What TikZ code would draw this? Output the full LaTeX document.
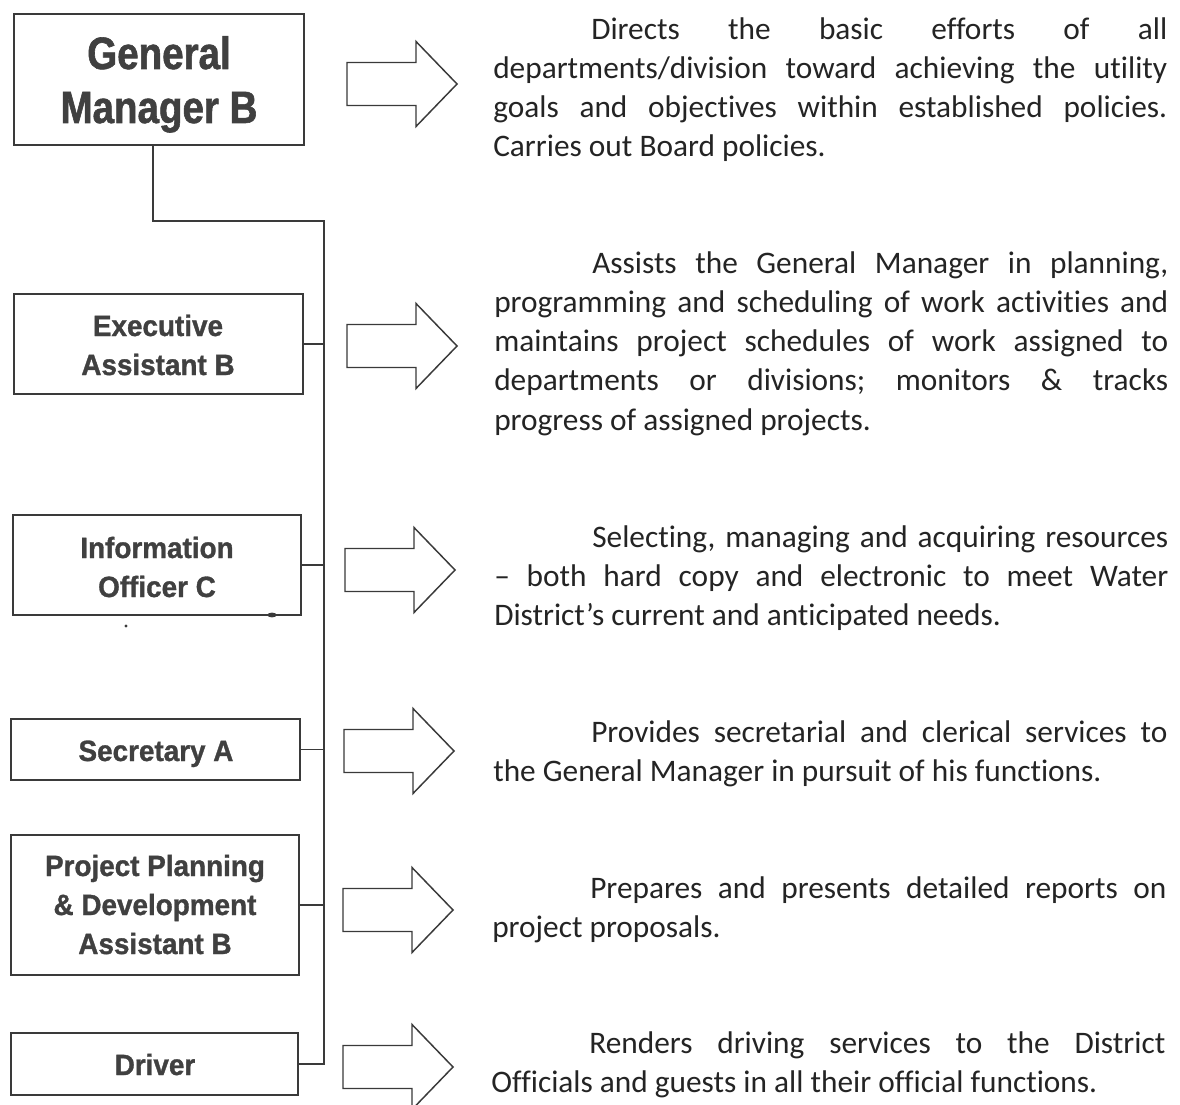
\documentclass[tikz,border=0pt]{standalone}
\usepackage{fontspec}
\setmainfont{Carlito}[Ligatures={TeX,NoCommon}]
\newfontfamily\gmfont[FakeStretch=0.85,FakeBold=1.3]{Liberation Sans}
\newfontfamily\boxfont[FakeStretch=0.95,FakeBold=1.1]{Liberation Sans}
\usetikzlibrary{fit}
\definecolor{ink}{HTML}{242424}
\definecolor{boxink}{HTML}{404040}
\definecolor{lineink}{HTML}{3A3A3A}
\tikzset{
  orgbox/.style={draw=lineink, line width=1.3pt, inner sep=0pt, fill=none},
  conn/.style={draw=lineink, line width=0.8pt},
  arrowline/.style={draw=lineink, line width=1.1pt, line join=miter},
  lab/.style={inner sep=0pt, anchor=base, text=boxink},
  desc/.style={inner sep=0pt, anchor=base west, text=ink,
    font=\fontsize{23.5pt}{29.25pt}\selectfont},
  fatarrow/.pic={\draw[arrowline] (0,-21.5) -- (69,-21.5) -- (69,-42.5) -- (110,0)
      -- (69,42.5) -- (69,21.5) -- (0,21.5) -- cycle;}
}
\newcommand{\desctext}[1]{\parbox[t]{505.5pt}{\frenchspacing\hspace*{73.5pt}#1}}
\newcommand{\smalllab}[1]{\parbox[t]{215pt}{\centering\boxfont\bfseries\fontsize{22pt}{29.25pt}\selectfont #1}}
\begin{document}
\begin{tikzpicture}[x=0.75pt, y=-0.75pt]
\useasboundingbox (0,0) rectangle (1180,1105);
\clip (0,0) rectangle (1180,1105);
\fill[white] (0,0) rectangle (1180,1105);

% boxes
\node[orgbox, fit={(14,14) (304,145)}] (gm) {};
\node[orgbox, fit={(14,294) (303,394)}] (ea) {};
\node[orgbox, fit={(13,515) (301,615)}] (io) {};
\node[orgbox, fit={(11,719) (300,780)}] (sa) {};
\node[orgbox, fit={(11,835) (299,975)}] (pp) {};
\node[orgbox, fit={(11,1033) (298,1095)}] (dr) {};

% box labels
\node[lab] (gml) at (159,69) {\parbox[t]{215pt}{\centering\gmfont\bfseries\fontsize{34pt}{40.5pt}\selectfont General\\Manager B}};
\node[lab] (eal) at (158,336) {\smalllab{Executive\\Assistant B}};
\node[lab] (iol) at (157,558) {\smalllab{Information\\Officer C}};
\node[lab] (sal) at (156,761) {\smalllab{Secretary A}};
\node[lab] (ppl) at (155,876) {\smalllab{Project Planning\\\& Development\\Assistant B}};
\node[lab] (drl) at (155,1075) {\smalllab{Driver}};

% connectors
\coordinate (gmdrop) at (153,145);
\coordinate (j) at (324,221);
\draw[conn] (gmdrop) |- (j) |- (dr.east);
\draw[conn] (ea.east) -- (ea.east -| j);
\draw[conn] (io.east) -- (io.east -| j);
\draw[conn] (sa.east) -- (sa.east -| j);
\draw[conn] (pp.east) -- (pp.east -| j);

% specks
\fill[lineink] (126,626) circle (1.3pt);
\fill[lineink] (272,615) ellipse (3.5pt and 1.8pt);

% arrows
\pic at (347,84) {fatarrow};
\pic at (347,346) {fatarrow};
\pic at (345,570) {fatarrow};
\pic at (344,751) {fatarrow};
\pic at (343,910) {fatarrow};
\pic at (343,1067) {fatarrow};

% descriptions
\node[desc] (d1) at (493,40) {\desctext{Directs the basic efforts of all\linebreak departments/division toward achieving the utility\linebreak goals and objectives within established policies.\linebreak Carries out Board policies.}};
\node[desc] (d2) at (494,274) {\desctext{Assists the General Manager in planning,\linebreak programming and scheduling of work activities and\linebreak maintains project schedules of work assigned to\linebreak departments or divisions; monitors \& tracks\linebreak progress of assigned projects.}};
\node[desc] (d3) at (494,547) {\desctext{Selecting, managing and acquiring resources\linebreak – both hard copy and electronic to meet Water\linebreak District’s current and anticipated needs.}};
\node[desc] (d4) at (493,742) {\desctext{Provides secretarial and clerical services to\linebreak the General Manager in pursuit of his functions.}};
\node[desc] (d5) at (492,898) {\desctext{Prepares and presents detailed reports on\linebreak project proposals.}};
\node[desc] (d6) at (491,1053) {\desctext{Renders driving services to the District\linebreak Officials and guests in all their official functions.}};
\end{tikzpicture}
\end{document}
